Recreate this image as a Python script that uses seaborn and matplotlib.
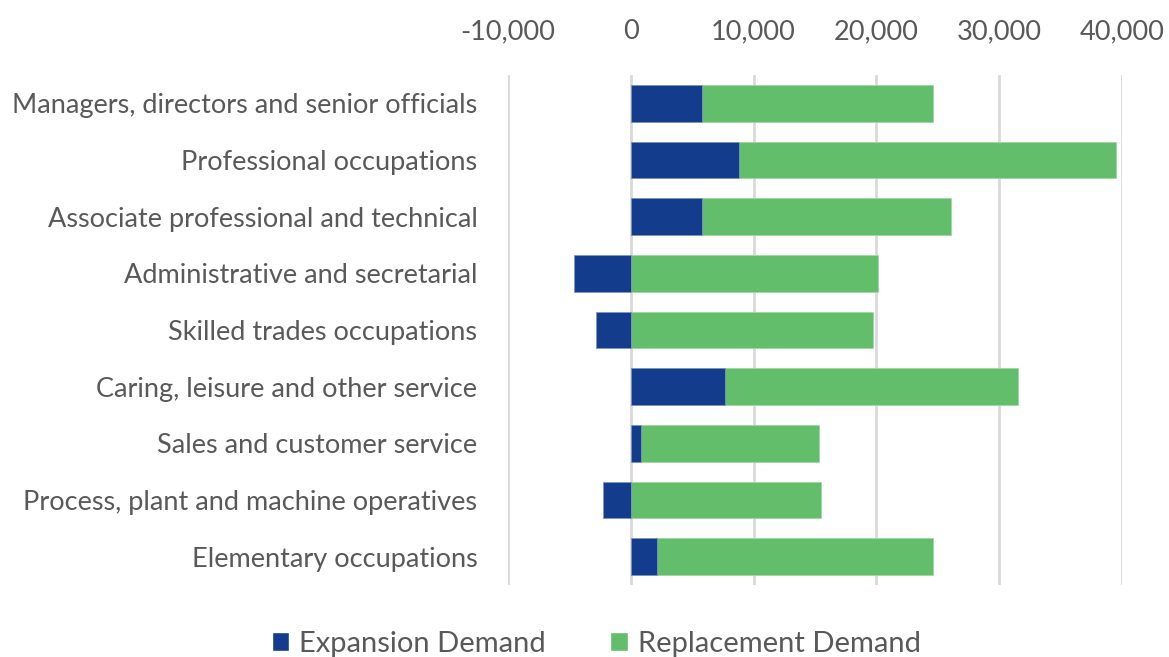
import numpy as np
import pandas as pd
import matplotlib
matplotlib.use("Agg")
import matplotlib.pyplot as plt
import seaborn as sns
from matplotlib.patches import Patch
from matplotlib.ticker import FuncFormatter

# ---------- DATA ----------
occupations = [
    "Managers, directors and senior officials",
    "Professional occupations",
    "Associate professional and technical",
    "Administrative and secretarial",
    "Skilled trades occupations",
    "Caring, leisure and other service",
    "Sales and customer service",
    "Process, plant and machine operatives",
    "Elementary occupations",
]
expansion = [5800, 8800, 5800, -4600, -2800, 7700, 800, -2300, 2100]
replacement = [18800, 30700, 20300, 20100, 19700, 23800, 14500, 15500, 22500]
x_ticks = [-10000, 0, 10000, 20000, 30000, 40000]

BLUE = "#143C8C"
GREEN = "#63BE6B"
TEXT = "#595959"

df = pd.DataFrame({"occupation": occupations,
                   "expansion": expansion,
                   "replacement": replacement})
# replacement sits on top of positive expansion, starts at 0 otherwise
df["stack_end"] = df["replacement"] + df["expansion"].clip(lower=0)

# ---------- PLOT ----------
sns.set_theme(style="white")
plt.rcParams["font.family"] = ["Lato", "DejaVu Sans"]

fig = plt.figure(figsize=(11.69, 6.57), dpi=100)
ax = fig.add_axes([0.4346, 0.1096, 0.5252, 0.7762])

for x in x_ticks:
    ax.axvline(x, color="#D9D9D9", lw=2, zorder=0)

sns.barplot(data=df, y="occupation", x="stack_end", color=GREEN, orient="h",
            width=0.65, saturation=1, edgecolor="#9ED9A3", linewidth=0.6, ax=ax, zorder=2)
sns.barplot(data=df, y="occupation", x="expansion", color=BLUE, orient="h",
            width=0.65, saturation=1, edgecolor="#7F95C4", linewidth=0.6, ax=ax, zorder=3)

ax.set_xlim(-10000, 40000)
ax.set_ylim(8.5, -0.5)
ax.set_xticks(x_ticks)
ax.xaxis.set_major_formatter(FuncFormatter(lambda v, p: f"{int(v):,}"))
ax.xaxis.tick_top()
ax.tick_params(axis="x", length=0, pad=22, labelsize=19.5, labelcolor=TEXT)
ax.tick_params(axis="y", length=0, pad=22, labelsize=19.5, labelcolor=TEXT)
ax.set_xlabel("")
ax.set_ylabel("")
for s in ax.spines.values():
    s.set_visible(False)

handles = [Patch(facecolor=BLUE, label="Expansion Demand"),
           Patch(facecolor=GREEN, label="Replacement Demand")]
leg = fig.legend(handles=handles, loc="center", bbox_to_anchor=(0.51, 0.02), ncol=2,
                 frameon=False, fontsize=21, handlelength=0.6, handleheight=0.6,
                 handletextpad=0.35, columnspacing=2.2)
for t in leg.get_texts():
    t.set_color(TEXT)

fig.savefig("out.png", dpi=100)
